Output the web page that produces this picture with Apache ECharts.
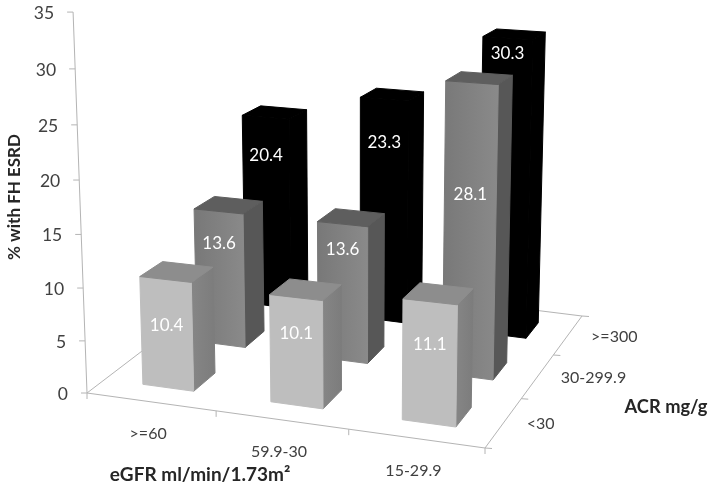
<!DOCTYPE html>
<html>
<head>
<meta charset="utf-8">
<style>
html, body { margin: 0; padding: 0; background: #fff; }
#chart { width: 711px; height: 489px; }
</style>
<script src="https://cdn.jsdelivr.net/npm/echarts@6/dist/echarts.min.js"></script>
</head>
<body>
<div id="chart"></div>
<script>
// chart data
const eGFRLabels = ['>=60', '59.9-30', '15-29.9']
const acrLabels = ['<30', '30-299.9', '>=300']
const yTicks = [0, 5, 10, 15, 20, 25, 30, 35]
const valuesLow = [10.4, 10.1, 11.1]
const valuesMid = [13.6, 13.6, 28.1]
const valuesHigh = [20.4, 23.3, 30.3]

const yTitle = '% with FH ESRD'
const xTitle = 'eGFR ml/min/1.73m²'
const depthTitle = 'ACR mg/g'

// camera: where the floor corners land on the page, and how the vertical axis leans
const floorCorners = [[87, 393], [485, 448], [582, 316], [243, 274]]
const leanX = -0.5
const leanY = -10.9
const leanW = -0.0014
const columnStretch = 0.04
const rowStretch = -0.04
const barShare = 0.4

// how far up the bar each value label sits, as a share of its height
const labelLift = {
  low: [0.58, 0.67, 0.65],
  mid: [0.76, 0.82, 0.63],
  high: [0.8, 0.81, 0.95],
}

const fontFamily = 'Lato, "Open Sans", sans-serif'
const axisColor = '#b4b4b4'
const textColor = '#404040'

const floor = solveFloor(floorCorners)

// homography from the unit square to the floor quad
function solveFloor([p0, p1, p2, p3]) {
  const dx1 = p1[0] - p2[0]
  const dx2 = p3[0] - p2[0]
  const sx = p0[0] - p1[0] + p2[0] - p3[0]
  const dy1 = p1[1] - p2[1]
  const dy2 = p3[1] - p2[1]
  const sy = p0[1] - p1[1] + p2[1] - p3[1]
  const den = dx1 * dy2 - dx2 * dy1
  const g = (sx * dy2 - dx2 * sy) / den
  const h = (dx1 * sy - sx * dy1) / den
  return {
    a: p1[0] - p0[0] + g * p1[0],
    b: p3[0] - p0[0] + h * p3[0],
    c: p0[0],
    d: p1[1] - p0[1] + g * p1[1],
    e: p3[1] - p0[1] + h * p3[1],
    f: p0[1],
    g,
    h,
  }
}

function project(s, t, v) {
  const w = floor.g * s + floor.h * t + 1 + leanW * v
  const lift = 1 + columnStretch * s + rowStretch * t
  return [
    (floor.a * s + floor.b * t + floor.c + leanX * v) / w,
    (floor.d * s + floor.e * t + floor.f + leanY * v * lift) / w,
  ]
}

// read the hidden axes back as floor share and value
function readScale(params, api, category, value) {
  const rect = params.coordSys
  const point = api.coord([category, value])
  return {
    s: (point[0] - rect.x) / rect.width,
    v: (35 * (rect.y + rect.height - point[1])) / rect.height,
    band: api.size([1, 0])[0] / rect.width,
  }
}

function polygon(points, fill) {
  return {
    type: 'polygon',
    shape: { points },
    style: { fill, stroke: fill, lineWidth: 1 },
    silent: true,
  }
}

function line(from, to) {
  return {
    type: 'line',
    shape: { x1: from[0], y1: from[1], x2: to[0], y2: to[1] },
    style: { stroke: axisColor, lineWidth: 1 },
    silent: true,
  }
}

function text(content, x, y, align, fill, size) {
  return {
    type: 'text',
    style: {
      text: content,
      x,
      y,
      fill,
      font: `${size}px ${fontFamily}`,
      textAlign: align,
      textVerticalAlign: 'middle',
    },
    silent: true,
  }
}

function title(content, x, y, size, rotation) {
  return {
    type: 'text',
    x,
    y,
    rotation,
    style: {
      text: content,
      fill: '#262626',
      font: `bold ${size}px ${fontFamily}`,
      textAlign: 'center',
      textVerticalAlign: 'middle',
    },
  }
}

function gradient(left, right) {
  return new echarts.graphic.LinearGradient(0, 0, 1, 0, [
    { offset: 0, color: left },
    { offset: 1, color: right },
  ])
}

function barSeries(name, row, values, lifts, look) {
  return {
    name,
    type: 'custom',
    coordinateSystem: 'cartesian2d',
    data: values.map((value, index) => [index, value]),
    encode: { x: 0, y: 1 },
    z: 3 + (2 - row),
    silent: true,
    renderItem(params, api) {
      const index = api.value(0)
      const value = api.value(1)
      const { s, v, band } = readScale(params, api, index, value)
      const half = (band * barShare) / 2
      const depth = (row + 0.5) / acrLabels.length
      const s0 = s - half
      const s1 = s + half
      const t0 = depth - half
      const t1 = depth + half
      const front = [project(s0, t0, 0), project(s1, t0, 0), project(s1, t0, v), project(s0, t0, v)]
      const side = [project(s1, t0, 0), project(s1, t1, 0), project(s1, t1, v), project(s1, t0, v)]
      const top = [project(s0, t0, v), project(s1, t0, v), project(s1, t1, v), project(s0, t1, v)]
      const spot = project(s, t0, v * lifts[index])
      return {
        type: 'group',
        children: [
          polygon(side, look.side),
          polygon(front, look.front),
          polygon(top, look.top),
          text(String(value), spot[0], spot[1], 'center', '#ffffff', 17),
        ],
      }
    },
  }
}

function axisSeries() {
  return {
    name: 'axes',
    type: 'custom',
    coordinateSystem: 'cartesian2d',
    data: [[0, 0]],
    encode: { x: 0, y: 1 },
    z: 1,
    silent: true,
    renderItem(params, api) {
      const children = []
      const top = yTicks[yTicks.length - 1]

      // vertical axis with its ticks and labels
      children.push(line(project(0, 0, 0), project(0, 0, readScale(params, api, 0, top).v)))
      yTicks.forEach((tick) => {
        const at = project(0, 0, readScale(params, api, 0, tick).v)
        children.push(line([at[0] - 6, at[1]], at))
        children.push(text(String(tick), at[0] - 19, at[1] + 1, 'right', textColor, 17.5))
      })

      // floor outline
      children.push(line(project(0, 0, 0), project(1, 0, 0)))
      children.push(line(project(1, 0, 0), project(1, 1, 0)))
      children.push(line(project(1, 1, 0), project(0, 1, 0)))
      children.push(line(project(0, 1, 0), project(0, 0, 0)))

      // eGFR ticks along the front edge
      eGFRLabels.forEach((label, index) => {
        const mid = project((index + 0.5) / eGFRLabels.length, 0, 0)
        children.push(text(label, mid[0] - 3, mid[1] + 32, 'center', textColor, 16))
      })
      for (let index = 0; index <= eGFRLabels.length; index += 1) {
        const at = project(index / eGFRLabels.length, 0, 0)
        children.push(line(at, [at[0], at[1] + 6]))
      }

      // ACR ticks along the right edge
      acrLabels.forEach((label, index) => {
        const mid = project(1, (index + 0.5) / acrLabels.length, 0)
        children.push(text(label, mid[0] + 23, mid[1] + 1.5, 'left', textColor, 16))
      })
      for (let index = 0; index <= acrLabels.length; index += 1) {
        const at = project(1, index / acrLabels.length, 0)
        children.push(line(at, [at[0] + 7, at[1] + 0.5]))
      }
      return { type: 'group', children }
    },
  }
}

const chart = echarts.init(document.getElementById('chart'), null, { renderer: 'canvas' })

chart.setOption({
  animation: false,
  backgroundColor: '#ffffff',
  grid: { left: 0, right: 0, top: 0, bottom: 0 },
  xAxis: { type: 'category', data: eGFRLabels, show: false },
  yAxis: { type: 'value', min: 0, max: 35, interval: 5, show: false },
  graphic: [
    title(yTitle, 15, 197, 17, Math.PI / 2),
    title(xTitle, 200, 475, 19, 0),
    title(depthTitle, 666, 407, 18.3, 0),
  ],
  series: [
    axisSeries(),
    barSeries(acrLabels[2], 2, valuesHigh, labelLift.high, {
      front: '#000000',
      side: '#000000',
      top: '#000000',
    }),
    barSeries(acrLabels[1], 1, valuesMid, labelLift.mid, {
      front: gradient('#787878', '#8a8a8a'),
      side: '#575757',
      top: '#5e5e5e',
    }),
    barSeries(acrLabels[0], 0, valuesLow, labelLift.low, {
      front: '#bebebe',
      side: gradient('#868686', '#7c7c7c'),
      top: '#8d8d8d',
    }),
  ],
})
</script>
</body>
</html>
